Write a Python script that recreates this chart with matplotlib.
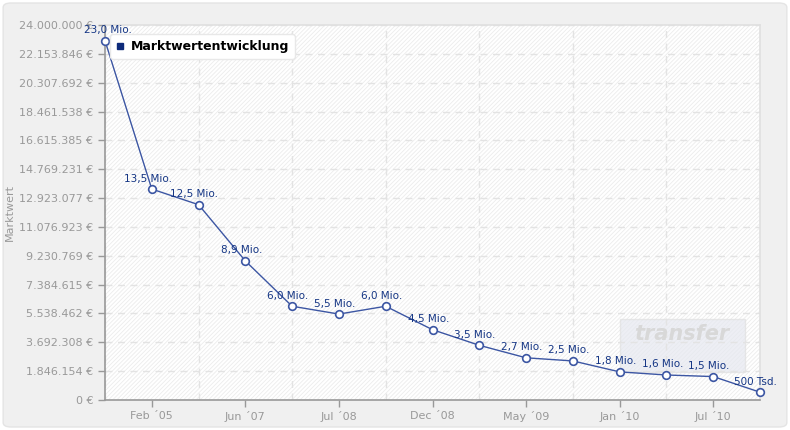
import matplotlib
matplotlib.use("Agg")
import matplotlib.pyplot as plt
from matplotlib.patches import Rectangle, FancyBboxPatch
from matplotlib.lines import Line2D
import numpy as np

values = [23.0, 13.5, 12.5, 8.9, 6.0, 5.5, 6.0, 4.5, 3.5, 2.7, 2.5, 1.8, 1.6, 1.5, 0.5]
point_labels = ["23,0 Mio.", "13,5 Mio.", "12,5 Mio.", "8,9 Mio.", "6,0 Mio.", "5,5 Mio.",
                "6,0 Mio.", "4,5 Mio.", "3,5 Mio.", "2,7 Mio.", "2,5 Mio.", "1,8 Mio.",
                "1,6 Mio.", "1,5 Mio.", "500 Tsd."]
xtick_idx = [1, 3, 5, 7, 9, 11, 13]
xtick_labels = ["Feb ´05", "Jun ´07", "Jul ´08", "Dec ´08", "May ´09", "Jan ´10", "Jul ´10"]
y_max = 24_000_000
n_steps = 13

plt.rcParams['font.family'] = ['DejaVu Sans']
plt.rcParams['hatch.linewidth'] = 0.6

fig = plt.figure(figsize=(7.9, 4.3), dpi=100)
fig.patch.set_facecolor('white')
panel = FancyBboxPatch((0.004, 0.007), 0.992, 0.986, boxstyle="round,pad=0,rounding_size=0.01",
                       transform=fig.transFigure, facecolor='#f0f0f0', edgecolor='#e4e4e4',
                       linewidth=1.0, zorder=-5)
fig.patches.append(panel)

ax = fig.add_axes([105/790, 1 - 400/430, 655/790, 375/430])
ax.set_zorder(1)
ax.set_facecolor('white')
hatch = Rectangle((0, 0), 1, 1, transform=ax.transAxes, facecolor='white',
                  edgecolor='#ececec', hatch='////////', linewidth=0, zorder=0)
ax.add_patch(hatch)

x = np.arange(len(values))
y = np.array(values) * 1e6

ax.set_xlim(0, len(values) - 1)
ax.set_ylim(0, y_max)

yt = np.linspace(0, y_max, n_steps + 1)
ax.set_yticks(yt)
def fmt(v):
    v = int(round(v))
    return (f"{v:,}".replace(",", ".")) + " €"
ax.set_yticklabels([fmt(v) for v in yt])

ax.set_xticks(xtick_idx)
ax.set_xticklabels(xtick_labels)
ax.set_xticks(x, minor=True)

ax.grid(True, which='major', axis='y', color='#e3e3e3', linestyle=(0, (5, 4)), linewidth=1.0, zorder=1)
ax.grid(True, which='minor', axis='x', color='#e3e3e3', linestyle=(0, (5, 4)), linewidth=1.0, zorder=1)
ax.tick_params(axis='x', which='minor', length=0)
ax.tick_params(axis='both', which='major', colors='#999999', labelcolor='#999999',
               labelsize=8, length=5, width=1)
ax.tick_params(axis='x', pad=3)

for s in ['left', 'bottom']:
    ax.spines[s].set_color('#999999')
    ax.spines[s].set_linewidth(1.2)
for s in ['top', 'right']:
    ax.spines[s].set_color('#e0e0e0')
    ax.spines[s].set_linewidth(1.2)

# watermark
wm = Rectangle((0.787, 0.075), 0.19, 0.14, transform=ax.transAxes, facecolor='#e6e8f0',
               edgecolor='#e0e0e0', alpha=0.7, zorder=1.5)
ax.add_patch(wm)
ax.text(0.88, 0.175, "transfer", transform=ax.transAxes, fontsize=15, fontweight='bold',
        style='italic', color='#d8d8d8', ha='center', va='center', zorder=1.6)

line_color = '#3c56a3'
ax.plot(x, y, color=line_color, linewidth=1.0, marker='o', markersize=5.5,
        markerfacecolor='white', markeredgecolor=line_color, markeredgewidth=1.2,
        clip_on=False, zorder=4)

for i, (xi, yi, lab) in enumerate(zip(x, y, point_labels)):
    dx = 2 if i == 0 else -3
    ax.annotate(lab, (xi, yi), xytext=(dx, 4), textcoords='offset points',
                ha='center', va='bottom', fontsize=7.5, color='#143584', zorder=5,
                annotation_clip=False)

ax.set_ylabel("Marktwert", color='#999999', fontsize=8)
ax.yaxis.set_label_coords(-0.138, 0.5)

handle = Line2D([], [], linestyle='none', marker='s', markersize=4,
                markerfacecolor='#0d2a7a', markeredgecolor='#0d2a7a')
leg = ax.legend([handle], ["Marktwertentwicklung"], loc='upper left',
                bbox_to_anchor=(0.008, 0.975), borderaxespad=0,
                prop={'weight': 'bold', 'size': 9},
                frameon=True, fancybox=True, handlelength=0.6, handletextpad=0.6,
                borderpad=0.45, framealpha=1)
leg.get_frame().set_edgecolor('#e8e8e8')
leg.get_frame().set_facecolor('white')
leg.set_zorder(6)

fig.savefig("out.png", dpi=100, facecolor=fig.get_facecolor())
